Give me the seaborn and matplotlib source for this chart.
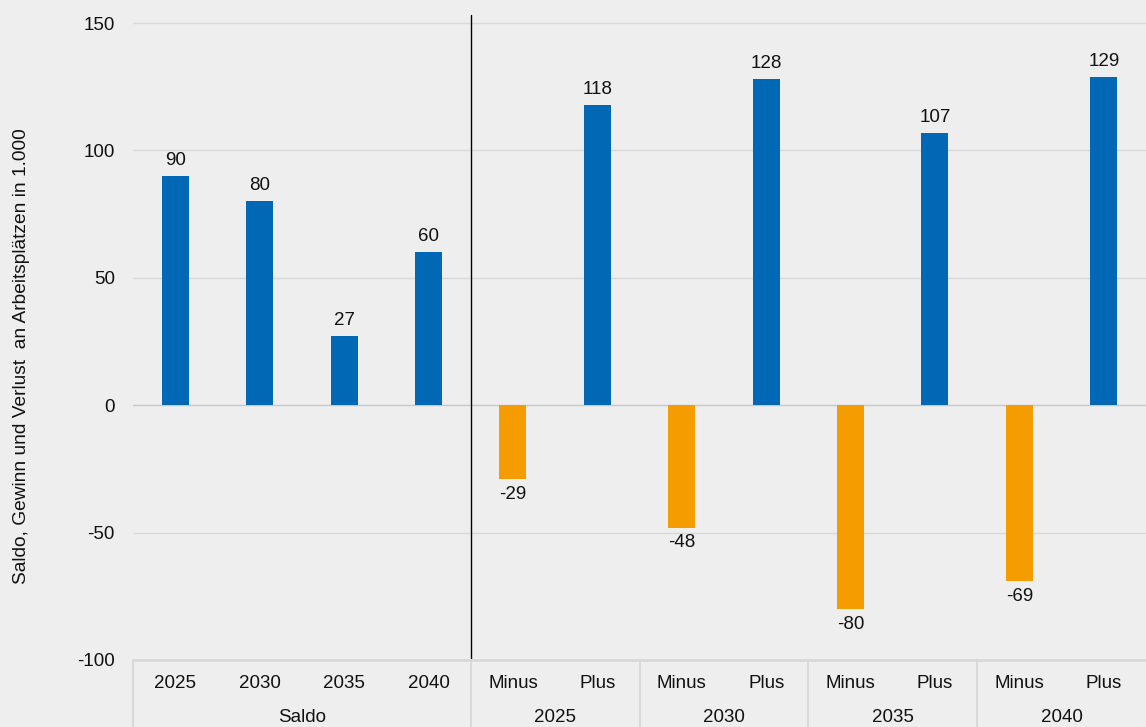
import pandas as pd
import matplotlib.pyplot as plt
import seaborn as sns

# Werte aus der Grafik
sub_labels = ['2025', '2030', '2035', '2040', 'Minus', 'Plus', 'Minus', 'Plus',
              'Minus', 'Plus', 'Minus', 'Plus']
werte = [90, 80, 27, 60, -29, 118, -48, 128, -80, 107, -69, 129]
gruppen = ['Saldo', '2025', '2030', '2035', '2040']
gruppen_groesse = [4, 2, 2, 2, 2]

blau = '#0068b4'
orange = '#f59c00'
hintergrund = '#eeeeee'
fs = 13.5

data = pd.DataFrame({
    'pos': range(len(werte)),
    'wert': werte,
    'typ': ['neg' if w < 0 else 'pos' for w in werte],
})

sns.set_theme(style='white')
plt.rcParams['font.family'] = ['Liberation Sans', 'DejaVu Sans']

fig = plt.figure(figsize=(11.46, 7.27), dpi=100, facecolor=hintergrund)
ax = fig.add_axes([133 / 1146, 67 / 727, 1 - 133 / 1146, (660 - 15) / 727])
ax.set_facecolor(hintergrund)

sns.barplot(data=data, x='pos', y='wert', hue='typ', palette={'pos': blau, 'neg': orange},
            dodge=False, width=0.32, legend=False, ax=ax, order=list(range(len(werte))),
            saturation=1, linewidth=0)

for cont in ax.containers:
    ax.bar_label(cont, padding=5, fontsize=fs, color='#111111')

ax.set_ylim(-100, 150 + 8 / 2.548)
ax.set_xlim(-0.5, len(werte) - 0.5)
ax.set_yticks([-100, -50, 0, 50, 100, 150])
ax.set_yticklabels(['-100', '-50', '0', '50', '100', '150'], fontsize=fs, color='#111111')
ax.tick_params(axis='y', length=0, pad=13)
for y in [-50, 50, 100, 150]:
    ax.axhline(y, color='#d9d9d9', lw=1, zorder=0)
ax.axhline(0, color='#c8c8c8', lw=1, zorder=0)

ax.set_xticks(range(len(werte)))
ax.set_xticklabels(sub_labels, fontsize=fs, color='#111111')
ax.tick_params(axis='x', length=0, pad=11)
ax.set_xlabel('')
ax.set_ylabel('')
fig.text(22 / 1146, 1 - 356 / 727, 'Saldo, Gewinn und Verlust  an Arbeitsplätzen in 1.000',
         rotation=90, ha='center', va='center', fontsize=13.8, color='#111111')

for s in ax.spines.values():
    s.set_visible(False)

# Trennlinie zwischen Saldo und Gewinn/Verlust
ax.plot([3.5, 3.5], [-100, 150 + 8 / 2.548], color='black', lw=1, clip_on=False)

# Kategorie-Achse unten mit Gruppen
trans = ax.get_xaxis_transform()
unten = -67 / 645
ax.plot([-0.5, len(werte) - 0.5], [0, 0], color='#d9d9d9', lw=2, transform=trans, clip_on=False)
start = -0.5
for name, n in zip(gruppen, gruppen_groesse):
    ax.plot([start, start], [0, unten], color='#d9d9d9', lw=1.5, transform=trans, clip_on=False)
    ax.text(start + n / 2, -57 / 645, name, ha='center', va='center', fontsize=fs,
            color='#111111', transform=trans)
    start += n

plt.savefig('out.png', dpi=100, facecolor=hintergrund)
